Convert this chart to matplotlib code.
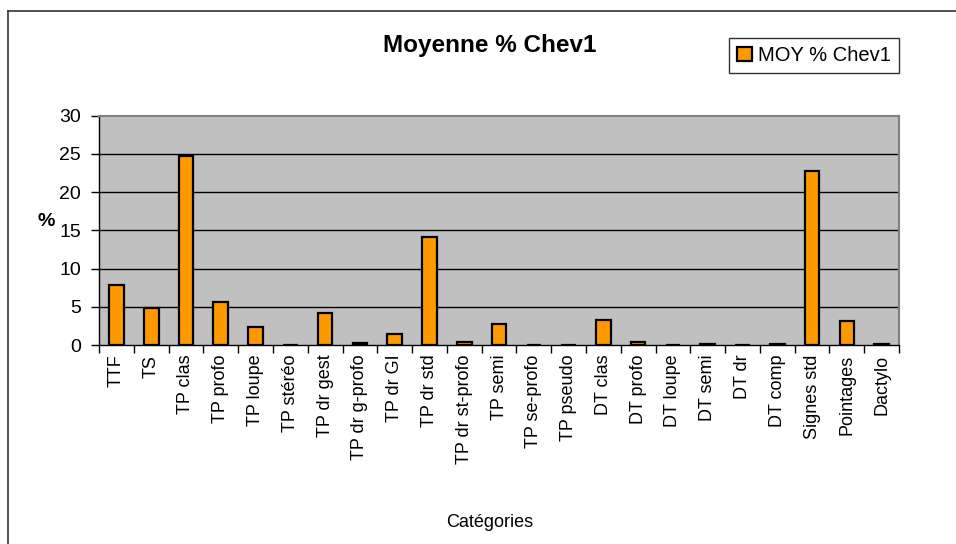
import matplotlib.pyplot as plt
from matplotlib.ticker import FixedLocator, NullFormatter
import numpy as np

plt.rcParams['font.family'] = ['Liberation Sans', 'DejaVu Sans']

categories = ['TTF', 'TS', 'TP clas', 'TP profo', 'TP loupe', 'TP stéréo',
              'TP dr gest', 'TP dr g-profo', 'TP dr GI', 'TP dr std',
              'TP dr st-profo', 'TP semi', 'TP se-profo', 'TP pseudo',
              'DT clas', 'DT profo', 'DT loupe', 'DT semi', 'DT dr',
              'DT comp', 'Signes std', 'Pointages', 'Dactylo']
moy_chev1 = [7.9, 4.85, 24.7, 5.6, 2.3, 0.05, 4.2, 0.2, 1.4, 14.1,
             0.35, 2.7, 0.02, 0.02, 3.3, 0.45, 0.05, 0.15, 0.05,
             0.1, 22.8, 3.2, 0.1]
y_ticks = [0, 5, 10, 15, 20, 25, 30]

fig = plt.figure(figsize=(9.56, 5.44), dpi=100)
ax = fig.add_axes([0.1036, 0.3658, 0.8368, 0.4215])

x = np.arange(len(categories))
ax.bar(x, moy_chev1, width=0.42, color='#FF9900', edgecolor='black',
       linewidth=1.6, zorder=3, label='MOY % Chev1')

ax.set_facecolor('#C0C0C0')
ax.set_xlim(-0.5, len(categories) - 0.5)
ax.set_ylim(0, 30)
ax.set_yticks(y_ticks)
for t in y_ticks[1:-1]:
    ax.axhline(t, color='black', linewidth=1, zorder=1)

# category labels at centers, tick marks between categories
ax.set_xticks(x)
ax.set_xticklabels(categories, rotation=90, fontsize=13)
ax.tick_params(axis='x', which='major', length=0, pad=7)
ax.xaxis.set_minor_locator(FixedLocator(np.arange(-0.5, len(categories), 1.0)))
ax.xaxis.set_minor_formatter(NullFormatter())
ax.tick_params(axis='x', which='minor', length=6, width=1, color='black')
ax.tick_params(axis='y', length=6, width=1, pad=7, labelsize=14)

for side in ('top', 'right'):
    ax.spines[side].set_color('#808080')
    ax.spines[side].set_linewidth(1.5)
for side in ('left', 'bottom'):
    ax.spines[side].set_color('black')
    ax.spines[side].set_linewidth(1)

ax.set_ylabel('%', rotation=0, fontsize=14, fontweight='bold')
ax.yaxis.set_label_coords(-0.066, 0.5)

fig.text(0.512, 0.917, 'Moyenne % Chev1', ha='center', va='center',
         fontsize=17.5, fontweight='bold')
fig.text(0.512, 0.04, 'Catégories', ha='center', va='center', fontsize=13)

leg = fig.legend(loc='upper right', bbox_to_anchor=(0.94, 0.93),
                 fontsize=14.5, frameon=True, fancybox=False, shadow=False,
                 handlelength=0.75, handleheight=0.75, handletextpad=0.3,
                 borderpad=0.4, borderaxespad=0)
leg.get_frame().set_edgecolor('black')
leg.get_frame().set_linewidth(1)

# chart outer border
fig.add_artist(plt.Line2D([8 / 956, 8 / 956], [0, 1 - 11 / 544],
                          color='#333333', linewidth=1.2))
fig.add_artist(plt.Line2D([8 / 956, 1], [1 - 11 / 544, 1 - 11 / 544],
                          color='#333333', linewidth=1.2))

fig.savefig('out.png', dpi=100)
